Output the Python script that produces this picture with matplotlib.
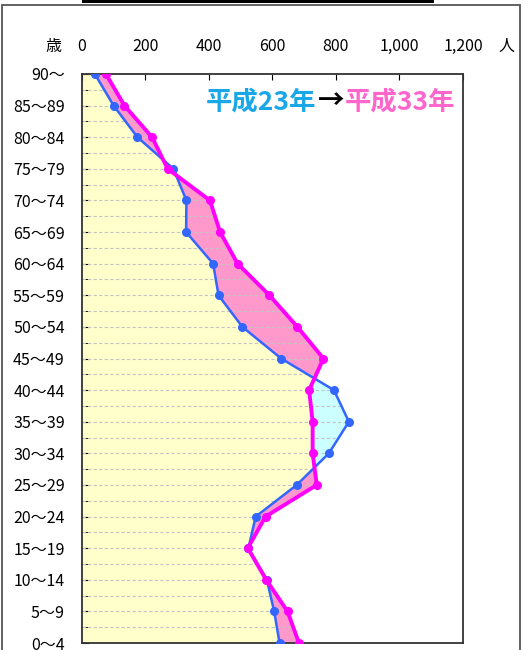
import numpy as np
import matplotlib.pyplot as plt
from matplotlib.patches import Rectangle

plt.rcParams['font.family'] = ['Noto Sans CJK JP', 'DejaVu Sans']

# age groups, bottom to top
ages = ["0～4", "5～9", "10～14", "15～19", "20～24", "25～29", "30～34",
        "35～39", "40～44", "45～49", "50～54", "55～59", "60～64", "65～69",
        "70～74", "75～79", "80～84", "85～89", "90～"]

# 平成23年 (blue) and 平成33年 (magenta), persons
pop_h23 = [623, 606, 583, 525, 548, 677, 778, 841, 794, 628,
           506, 431, 414, 329, 330, 289, 176, 101, 42]
pop_h33 = [684, 648, 581, 523, 579, 740, 727, 727, 716, 761,
           679, 591, 491, 436, 404, 271, 222, 135, 77]

x_ticks = [0, 200, 400, 600, 800, 1000, 1200]
x_ticklabels = ["0", "200", "400", "600", "800", "1,000", "1,200"]

W, H = 528, 650
fig = plt.figure(figsize=(W / 100, H / 100), dpi=100)

# outer frame + black bar on top
fig.patches.append(Rectangle((2 / W, -0.02), 518 / W, 1 - 5 / H + 0.02,
                             transform=fig.transFigure, fill=False,
                             edgecolor="#555555", linewidth=1.3))
fig.patches.append(Rectangle((82 / W, 1 - 3 / H), 352 / W, 3 / H,
                             transform=fig.transFigure, facecolor="black",
                             edgecolor="none"))

ax = fig.add_axes([81.5 / W, 1 - 643 / H, (463 - 81.5) / W, (643 - 74) / H])

y = np.arange(len(ages))
b = np.array(pop_h23, dtype=float)
m = np.array(pop_h33, dtype=float)

# fills
yy = np.linspace(0, len(ages) - 1, 2000)
bi = np.interp(yy, y, b)
mi = np.interp(yy, y, m)
ax.fill_betweenx(yy, 0, np.minimum(bi, mi), color="#FFFFCC", lw=0, zorder=1)
ax.fill_betweenx(yy, bi, mi, where=mi >= bi, color="#FF99CC", lw=0, zorder=1)
ax.fill_betweenx(yy, bi, mi, where=bi >= mi, color="#CCFFFF", lw=0, zorder=1)

# dashed gridlines only inside the filled region
for yv in np.arange(0.5, len(ages) - 1 + 0.01, 0.5):
    xe = max(np.interp(yv, y, b), np.interp(yv, y, m))
    ax.plot([0, xe], [yv, yv], color="#C4C4C4", lw=0.8, ls=(0, (3, 2)), zorder=2)

ax.plot(b, y, color="#3366FF", lw=1.8, marker="o", ms=5.5, zorder=3)
ax.plot(m, y, color="#FF00FF", lw=2.8, marker="o", ms=5.5, zorder=4)

ax.set_xlim(0, 1200)
ax.set_ylim(0, len(ages) - 1)
ax.xaxis.tick_top()
ax.set_xticks(x_ticks)
ax.set_xticklabels(x_ticklabels, fontsize=11.5)
ax.set_yticks(y)
ax.set_yticklabels(ages, fontsize=11.5)
ax.set_yticks(np.arange(0.5, len(ages) - 1, 1), minor=True)
ax.tick_params(axis="x", direction="in", length=4, pad=14, colors="black")
ax.tick_params(axis="y", which="both", direction="in", length=5, pad=12)
for s in ax.spines.values():
    s.set_color("#333333")
    s.set_linewidth(1.3)

fig.text(53 / W, 1 - 47 / H, "歳", fontsize=11.5, ha="center", va="center")
fig.text(506 / W, 1 - 46 / H, "人", fontsize=11.5, ha="center", va="center")

ty = 1 - 102 / H
fig.text(316 / W, ty, "平成23年", fontsize=19, fontweight="bold",
         color="#1AA7E8", ha="right", va="center")
fig.text(331 / W, ty, "→", fontsize=19, fontweight="bold",
         color="black", ha="center", va="center")
fig.text(345 / W, ty, "平成33年", fontsize=19, fontweight="bold",
         color="#FF66CC", ha="left", va="center")

fig.savefig("out.png", dpi=100)
